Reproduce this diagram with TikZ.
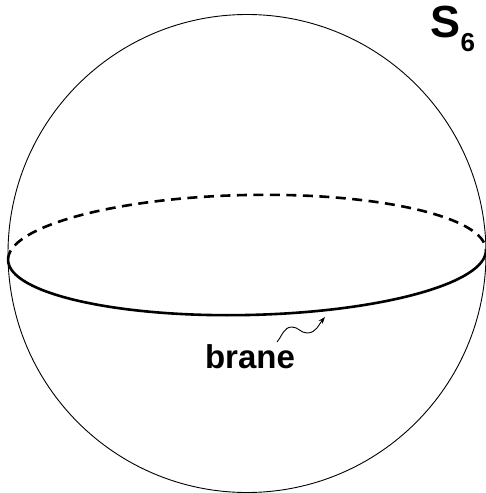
\documentclass[tikz,border=0pt]{standalone}
\usepackage{fontspec}
\setmainfont{Liberation Sans}
\usetikzlibrary{arrows.meta}
\begin{document}
\begin{tikzpicture}[x=1pt,y=1pt,
  sphere/.style={line width=0.9pt},
  rim/.style={line width=2.6pt},
  rimback/.style={line width=2.6pt, dash pattern=on 10pt off 6.5pt},
  lbl/.style={font=\bfseries\fontsize{33}{36}\selectfont, inner sep=0pt},
  pointer/.style={line width=0.9pt, -{Stealth[length=7pt,width=5pt]}}]
\useasboundingbox (0,0) rectangle (486,-493);
\draw[sphere] (247,-253.5) circle[radius=239];
\begin{scope}[rotate around={1.2:(247,-255)}]
\draw[rim] (8,-255) arc[start angle=180, end angle=360, x radius=239, y radius=60];
\draw[rimback] (8,-255) arc[start angle=180, end angle=0, x radius=239, y radius=60];
\end{scope}
\node[lbl] (brane) at (250,-357) {brane};
\node[inner sep=0pt, anchor=base west] (s6) at (430,-37.5) {\bfseries\fontsize{45}{48}\selectfont S\kern0.5pt\raisebox{-13.5pt}{\fontsize{26}{28}\selectfont 6}};
\coordinate (ws) at (277,-342);
\coordinate (wc) at (292,-327);
\coordinate (wt) at (307,-333);
\coordinate (we) at (325,-317);
\draw[pointer] (ws) to[out=50,in=180] (wc) to[out=0,in=180] (wt) to[out=0,in=230] (we);
\end{tikzpicture}
\end{document}
